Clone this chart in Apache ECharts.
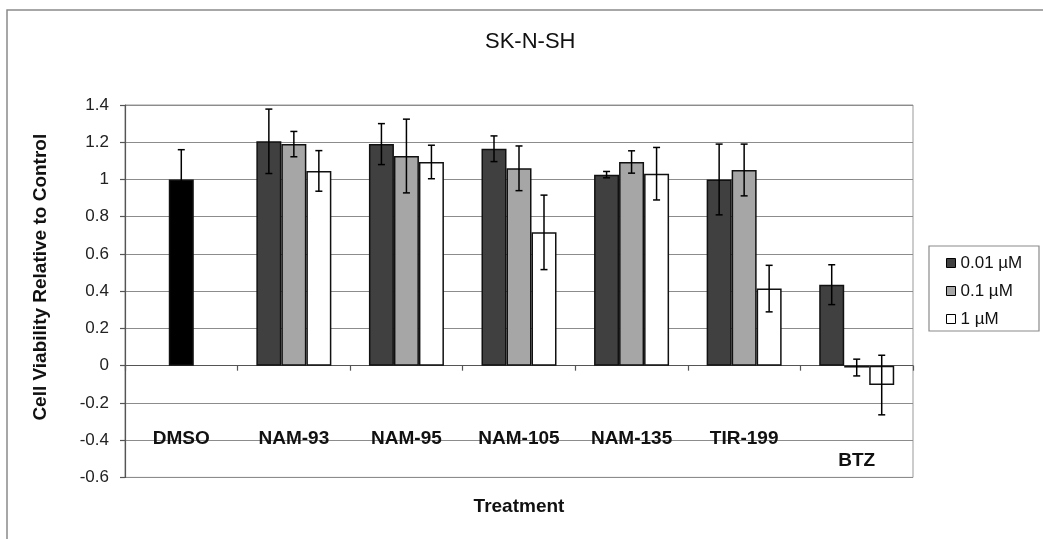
<!DOCTYPE html>
<html>
<head>
<meta charset="utf-8">
<script src="https://cdn.jsdelivr.net/npm/echarts@6/dist/echarts.min.js"></script>
<style>
html,body{margin:0;padding:0;background:#fff;}
#chart{width:1043px;height:539px;}
</style>
</head>
<body>
<div id="chart"></div>
<script>
const categories = ['DMSO', 'NAM-93', 'NAM-95', 'NAM-105', 'NAM-135', 'TIR-199', 'BTZ'];
const seriesNames = ['0.01 µM', '0.1 µM', '1 µM'];
const dmsoValue = 1.00;
const dmsoErr = 0.16;
const low = [null, 1.205, 1.19, 1.165, 1.026, 1.00, 0.435];
const lowErr = [null, 0.173, 0.11, 0.069, 0.017, 0.19, 0.107];
const mid = [null, 1.19, 1.126, 1.06, 1.094, 1.051, -0.01];
const midErr = [null, 0.068, 0.198, 0.12, 0.06, 0.139, 0.045];
const high = [null, 1.046, 1.094, 0.716, 1.031, 0.414, -0.104];
const highErr = [null, 0.109, 0.09, 0.2, 0.141, 0.125, 0.16];
const yTicks = { min: -0.6, max: 1.4, interval: 0.2 };

const FONT = '"Liberation Sans", Arial, sans-serif';
const BAR_W = 25;
const colors = ['#404040', '#a6a6a6', '#ffffff'];

// middle series carries the DMSO control bar (black) in the first category
const midData = mid.map((v, i) => i === 0 ? { value: dmsoValue, itemStyle: { color: '#000000' } } : v);
const midErrData = midErr.slice(); midErrData[0] = dmsoErr;
const midVals = mid.slice(); midVals[0] = dmsoValue;

const vals = [low, midVals, high];
const errs = [lowErr, midErrData, highErr];
const barData = [low, midData, high];

function errSeries(k) {
  const data = [];
  vals[k].forEach((v, i) => {
    if (v !== null && errs[k][i] !== null) data.push([i, v, errs[k][i]]);
  });
  return {
    type: 'custom',
    name: 'err' + k,
    z: 10,
    silent: true,
    encode: { x: 0, y: 1 },
    data: data,
    renderItem: function (params, api) {
      const ci = api.value(0), v = api.value(1), e = api.value(2);
      const off = (k - 1) * BAR_W;
      const top = api.coord([ci, v + e]);
      const bot = api.coord([ci, v - e]);
      const x = top[0] + off;
      const cw = 3.5;
      const style = { stroke: '#000', lineWidth: 1.5, fill: null };
      return {
        type: 'group',
        children: [
          { type: 'line', shape: { x1: x, y1: top[1], x2: x, y2: bot[1] }, style: style },
          { type: 'line', shape: { x1: x - cw, y1: top[1], x2: x + cw, y2: top[1] }, style: style },
          { type: 'line', shape: { x1: x - cw, y1: bot[1], x2: x + cw, y2: bot[1] }, style: style }
        ]
      };
    }
  };
}

const chart = echarts.init(document.getElementById('chart'), null, { renderer: 'canvas' });
const option = {
  backgroundColor: '#ffffff',
  animation: false,
  title: {
    text: 'SK-N-SH',
    left: 480,
    top: 26,
    textStyle: { fontFamily: FONT, fontSize: 22, fontWeight: 'normal', color: '#111' }
  },
  graphic: [
    { type: 'rect', shape: { x: 7, y: 10, width: 1060, height: 560 }, style: { fill: null, stroke: '#8a8a8a', lineWidth: 1.5 }, z: -1, silent: true },
    { type: 'rect', shape: { x: 929, y: 246, width: 110, height: 85 }, style: { fill: '#fff', stroke: '#8a8a8a', lineWidth: 1.2 }, z: 0, silent: true }
  ],
  legend: {
    data: seriesNames,
    orient: 'vertical',
    left: 946,
    top: 254,
    padding: 0,
    itemGap: 10,
    itemWidth: 9,
    itemHeight: 9,
    icon: 'rect',
    itemStyle: { borderColor: '#000', borderWidth: 1 },
    textStyle: { fontFamily: FONT, fontSize: 17, color: '#111', lineHeight: 18 },
    z: 5
  },
  grid: {
    left: 125, right: 130, top: 105, bottom: 61.6,
    containLabel: false,
    outerBoundsMode: 'none',
    show: true, borderColor: '#999', borderWidth: 1, backgroundColor: 'transparent'
  },
  xAxis: {
    type: 'category',
    data: categories,
    name: 'Treatment',
    nameLocation: 'middle',
    nameGap: 20,
    nameTextStyle: { fontFamily: FONT, fontSize: 19, fontWeight: 'bold', color: '#111' },
    axisLine: { onZero: true, lineStyle: { color: '#555', width: 1.2 } },
    axisTick: { show: true, length: 5, inside: false, alignWithLabel: false, lineStyle: { color: '#555', width: 1.2 } },
    axisLabel: {
      margin: -50,
      fontFamily: FONT, fontSize: 19, fontWeight: 'bold', color: '#111', lineHeight: 22,
      interval: 0,
      formatter: function (v) { return v === 'BTZ' ? '\n' + v : v; }
    },
    splitLine: { show: false }
  },
  yAxis: {
    type: 'value',
    min: yTicks.min, max: yTicks.max, interval: yTicks.interval,
    name: 'Cell Viability Relative to Control',
    nameLocation: 'middle',
    nameGap: 75,
    nameTextStyle: { fontFamily: FONT, fontSize: 19, fontWeight: 'bold', color: '#111', padding: [0, 0, 0, 28] },
    axisLine: { show: true, lineStyle: { color: '#555', width: 1.2 } },
    axisTick: { show: true, length: 5, inside: false, lineStyle: { color: '#555', width: 1.2 } },
    axisLabel: {
      margin: 16, fontFamily: FONT, fontSize: 17, color: '#222',
      formatter: function (v) { return String(Math.round(v * 10) / 10); }
    },
    splitLine: { show: true, lineStyle: { color: '#8c8c8c', width: 1.2 } }
  },
  series: [0, 1, 2].map(k => ({
    type: 'bar',
    name: seriesNames[k],
    data: barData[k],
    barWidth: BAR_W,
    barGap: '0%',
    itemStyle: { color: colors[k], borderColor: '#111', borderWidth: 1.5 }
  })).concat([0, 1, 2].map(errSeries))
};
chart.setOption(option);
</script>
</body>
</html>
